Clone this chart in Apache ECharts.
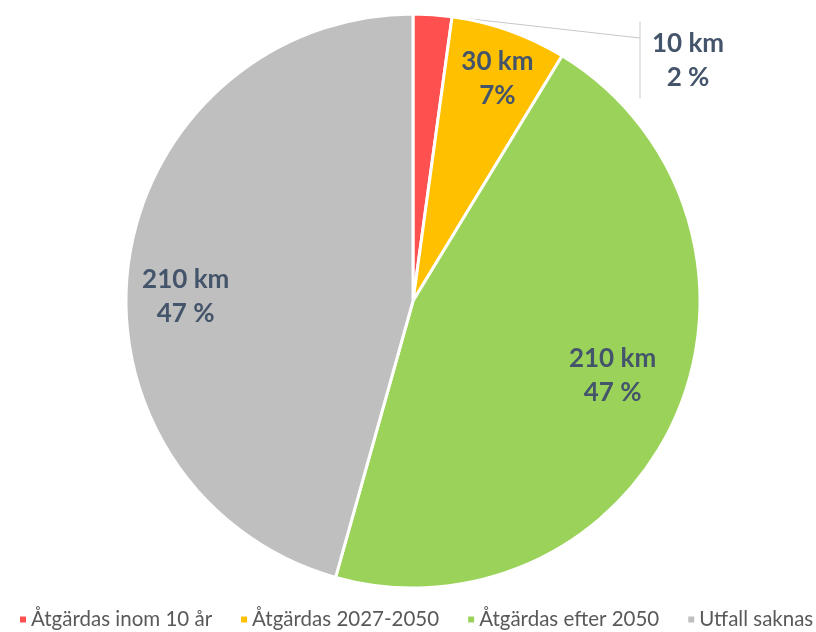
<!DOCTYPE html>
<html>
<head>
<meta charset="utf-8">
<script src="https://cdn.jsdelivr.net/npm/echarts@6/dist/echarts.min.js"></script>
<style>
  html, body { margin: 0; padding: 0; background: #fff; }
  #chart { width: 816px; height: 632px; }
</style>
</head>
<body>
<div id="chart"></div>
<script>
var categories = ['Åtgärdas inom 10 år', 'Åtgärdas 2027-2050', 'Åtgärdas efter 2050', 'Utfall saknas'];
var lengths = [10, 30, 210, 210];
var shares = ['2 %', '7%', '47 %', '47 %'];
var colors = ['#FF5050', '#FFC000', '#9BD35A', '#BFBFBF'];

var centerX = 413, centerY = 301, radius = 287;

var data = categories.map(function (name, i) {
  var item = { name: name, value: lengths[i], itemStyle: { color: colors[i] } };
  if (i === 0) {
    item.label = { position: 'outside', align: 'center', verticalAlign: 'middle' };
    item.labelLine = { show: true };
  }
  return item;
});

// tweak for inside labels: radial push + small extra shift
var pushOut = [0, 0.66, 0.5, 0.58];
var shiftX = [0, 3, -2, 2];
var shiftY = [0, 7, -13, 27];

var chart = echarts.init(document.getElementById('chart'));
chart.setOption({
  animation: false,
  color: colors,
  legend: {
    data: categories,
    left: 18,
    top: 609,
    width: 798,
    padding: 0,
    icon: 'rect',
    itemWidth: 8,
    itemHeight: 8,
    itemGap: 27,
    textStyle: { color: '#595959', fontSize: 20.5, fontFamily: 'Lato', padding: [0, 0, 0, -1] }
  },
  series: [{
    type: 'pie',
    center: [centerX, centerY],
    radius: radius,
    startAngle: 90,
    clockwise: true,
    data: data,
    itemStyle: { borderColor: '#fff', borderWidth: 3 },
    label: {
      show: true,
      position: 'inside',
      color: '#44546A',
      fontFamily: 'Lato',
      fontWeight: 'bold',
      fontSize: 26,
      lineHeight: 34,
      formatter: function (p) {
        return p.value + ' km\n' + shares[p.dataIndex];
      }
    },
    labelLine: { show: false, lineStyle: { color: '#C8C8C8', width: 1 } },
    labelLayout: function (p) {
      var i = p.dataIndex;
      if (i === 0) {
        var start = p.labelLinePoints ? p.labelLinePoints[0] : [440, 15];
        return {
          x: 688, y: 61,
          align: 'center',
          verticalAlign: 'middle',
          labelLinePoints: [start, [640, 38], [640, 38]]
        };
      }
      var cx = p.labelRect.x + p.labelRect.width / 2;
      var cy = p.labelRect.y + p.labelRect.height / 2;
      return {
        dx: (cx - centerX) * pushOut[i] + shiftX[i],
        dy: (cy - centerY) * pushOut[i] + shiftY[i]
      };
    }
  }],
  graphic: [{
    type: 'line',
    shape: { x1: 640, y1: 22, x2: 640, y2: 98 },
    style: { stroke: '#C8C8C8', lineWidth: 1 }
  }]
});
</script>
</body>
</html>
